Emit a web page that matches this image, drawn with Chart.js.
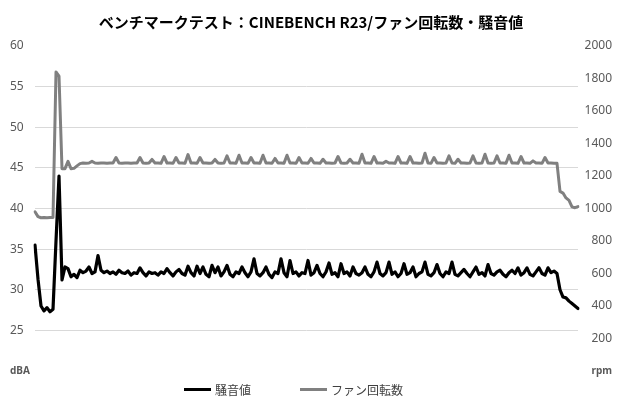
<!DOCTYPE html>
<html lang="ja">
<head>
<meta charset="utf-8">
<title>CINEBENCH R23 ファン回転数・騒音値</title>
<script src="https://cdn.jsdelivr.net/npm/chart.js@4.4.1/dist/chart.umd.min.js"></script>
<style>
  body { margin: 0; background: #fff; }
  #wrap { position: relative; width: 620px; height: 400px; }
  #legend { position: absolute; left: 184px; top: 381px; height: 16px; line-height: 16px;
            display: flex; align-items: center;
            font: 12px 'Noto Sans CJK JP', sans-serif; color: #404040; }
  #legend .item { display: flex; align-items: center; margin-right: 49px; }
  #legend .swatch { width: 27px; height: 3px; margin-right: 4px; }
</style>
</head>
<body>
<div id="wrap">
  <canvas id="fanNoiseChart" width="620" height="400"></canvas>
  <div id="legend"></div>
</div>
<script>
// chart text
const chartTitle = 'ベンチマークテスト：CINEBENCH R23/ファン回転数・騒音値';
const seriesNames = ['騒音値', 'ファン回転数'];
const unitLabels = ['dBA', 'rpm'];   // shown in place of the bottom tick of each axis

// axis ranges (left: dBA, right: rpm)
const dbaRange = [20, 60, 5];
const rpmRange = [0, 2000, 200];

// noise level, dBA (one sample every ~3px of the original plot)
const noiseDba = [
  35.5, 31.3, 28.0, 27.4, 27.8, 27.3, 27.6, 36.0, 44.0, 31.2,
  32.8, 32.6, 31.6, 31.9, 31.5, 32.4, 32.1, 32.3, 32.8, 32.0,
  32.2, 34.2, 32.4, 32.1, 32.3, 32.0, 32.2, 31.9, 32.4, 32.1,
  32.0, 32.3, 31.8, 32.1, 32.0, 32.7, 32.1, 31.7, 32.2, 32.0,
  32.1, 31.8, 32.2, 32.0, 32.6, 32.1, 31.7, 32.2, 32.5, 32.0,
  31.8, 32.9, 32.1, 31.7, 32.9, 32.0, 32.8, 31.9, 31.6, 33.0,
  32.1, 32.8, 31.7, 32.2, 33.0, 31.9, 31.6, 32.2, 32.0, 32.8,
  32.1, 31.6, 32.2, 33.8, 32.0, 31.7, 32.1, 32.8, 31.9, 31.5,
  32.2, 32.0, 33.8, 32.1, 31.6, 33.6, 32.0, 32.2, 31.7, 32.1,
  32.0, 33.6, 31.8, 32.1, 33.0, 32.0, 31.6, 32.2, 33.3, 31.9,
  32.1, 31.6, 33.2, 32.0, 32.2, 31.7, 32.8, 32.0, 31.8, 32.1,
  32.8, 31.9, 31.6, 32.2, 33.4, 32.0, 31.7, 32.1, 33.4, 31.9,
  32.2, 31.6, 32.0, 33.2, 31.9, 32.1, 32.8, 31.6, 32.0, 32.2,
  33.4, 31.9, 31.7, 32.1, 33.1, 32.0, 31.6, 32.2, 32.0, 33.4,
  31.9, 31.7, 32.1, 32.5, 32.0, 31.6, 32.2, 32.8, 31.9, 32.1,
  31.7, 33.1, 32.0, 31.8, 32.2, 32.4, 31.9, 31.6, 32.1, 32.4,
  32.0, 32.7, 31.8, 32.1, 32.7, 31.9, 31.7, 32.2, 32.7, 32.0,
  31.8, 32.7, 32.1, 32.3, 32.0, 30.0, 29.1, 29.0, 28.6, 28.3,
  28.0, 27.7
];

// fan speed, rpm
const fanRpm = [
  980, 950, 943, 945, 943, 945, 945, 1840, 1815, 1245,
  1245, 1290, 1245, 1247, 1262, 1276, 1280, 1278, 1280, 1290,
  1280, 1278, 1280, 1280, 1278, 1280, 1280, 1314, 1280, 1278,
  1280, 1280, 1278, 1280, 1280, 1314, 1280, 1278, 1280, 1302,
  1280, 1280, 1278, 1320, 1280, 1280, 1278, 1314, 1280, 1280,
  1278, 1332, 1280, 1280, 1278, 1314, 1280, 1280, 1278, 1280,
  1302, 1280, 1278, 1280, 1324, 1280, 1280, 1278, 1328, 1280,
  1280, 1278, 1314, 1280, 1280, 1278, 1328, 1280, 1280, 1278,
  1308, 1280, 1280, 1278, 1328, 1280, 1280, 1278, 1314, 1280,
  1280, 1278, 1308, 1280, 1280, 1278, 1303, 1280, 1280, 1278,
  1280, 1320, 1280, 1278, 1280, 1303, 1280, 1280, 1278, 1334,
  1280, 1280, 1278, 1320, 1280, 1280, 1278, 1290, 1280, 1280,
  1278, 1320, 1280, 1280, 1278, 1320, 1280, 1280, 1278, 1280,
  1340, 1280, 1278, 1314, 1280, 1280, 1278, 1280, 1324, 1280,
  1278, 1303, 1280, 1280, 1278, 1280, 1324, 1280, 1278, 1280,
  1334, 1280, 1278, 1280, 1324, 1280, 1280, 1278, 1328, 1280,
  1280, 1278, 1320, 1280, 1280, 1278, 1293, 1280, 1280, 1278,
  1314, 1280, 1280, 1278, 1278, 1105, 1095, 1065, 1050, 1010,
  1005, 1012
];

// sample index, x axis is hidden
const samples = noiseDba.map((v, i) => i);

const tickColor = '#595959';
const tickFont = (ctx) => {
  const v = ctx.tick ? ctx.tick.value : null;
  if (v === dbaRange[0] || v === rpmRange[0]) {
    return { family: "'Noto Sans', sans-serif", size: 10, weight: 'bold' };
  }
  return { family: "'Noto Sans', sans-serif", size: 12 };
};

const config = {
  type: 'line',
  data: {
    labels: samples,
    datasets: [{
      label: seriesNames[0],
      data: noiseDba,
      yAxisID: 'y',
      borderColor: '#000000',
      backgroundColor: '#000000',
      borderWidth: 3.2,
      pointRadius: 0,
      borderJoinStyle: 'round',
      borderCapStyle: 'round'
    }, {
      label: seriesNames[1],
      data: fanRpm,
      yAxisID: 'y1',
      borderColor: '#808080',
      backgroundColor: '#808080',
      borderWidth: 3,
      pointRadius: 0,
      borderJoinStyle: 'round',
      borderCapStyle: 'round'
    }]
  },
  options: {
    responsive: false,
    animation: false,
    layout: { padding: { left: 10, right: 8, top: 0, bottom: 29 } },
    scales: {
      x: { display: false },
      y: {
        position: 'left',
        min: dbaRange[0], max: dbaRange[1],
        border: { display: false },
        grid: {
          drawTicks: false,
          color: (ctx) => (ctx.tick.value === dbaRange[0] || ctx.tick.value === dbaRange[1])
            ? 'rgba(0,0,0,0)' : '#d9d9d9'
        },
        ticks: {
          stepSize: dbaRange[2],
          color: tickColor,
          font: tickFont,
          crossAlign: 'far',
          callback: (v) => v === dbaRange[0] ? unitLabels[0] : v
        },
        afterFit: (scale) => { scale.width = 25; }
      },
      y1: {
        position: 'right',
        min: rpmRange[0], max: rpmRange[1],
        border: { display: false },
        grid: { display: false, drawTicks: false },
        ticks: {
          stepSize: rpmRange[2],
          color: tickColor,
          font: tickFont,
          crossAlign: 'far',
          callback: (v) => v === rpmRange[0] ? unitLabels[1] : v
        },
        afterFit: (scale) => { scale.width = 34; }
      }
    },
    plugins: {
      title: {
        display: true,
        text: chartTitle,
        color: '#000000',
        font: { family: "'Noto Sans CJK JP', sans-serif", size: 15, weight: 'bold' },
        padding: { top: 13, bottom: 15 }
      },
      legend: { display: false },
      tooltip: { enabled: false }
    }
  }
};

const chart = new Chart(document.getElementById('fanNoiseChart'), config);

// legend below the plot, built from the datasets
const legendBox = document.getElementById('legend');
chart.data.datasets.forEach((ds) => {
  const item = document.createElement('div');
  item.className = 'item';
  const swatch = document.createElement('span');
  swatch.className = 'swatch';
  swatch.style.background = ds.borderColor;
  const text = document.createElement('span');
  text.textContent = ds.label;
  item.appendChild(swatch);
  item.appendChild(text);
  legendBox.appendChild(item);
});
</script>
</body>
</html>
